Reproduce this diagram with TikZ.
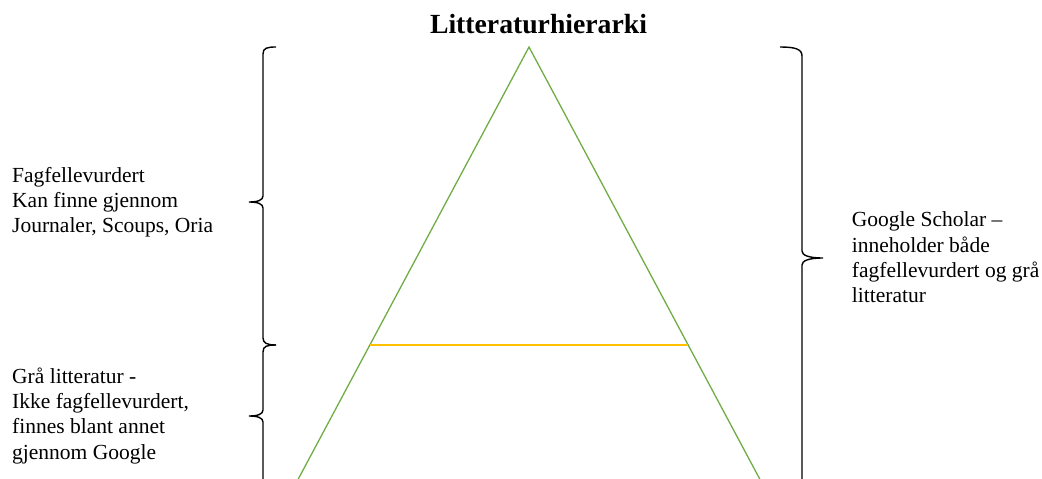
\documentclass[tikz,border=0pt]{standalone}
\usepackage{fontspec}
\setmainfont{Liberation Serif}
\definecolor{tgreen}{HTML}{70AD47}
\definecolor{tyellow}{HTML}{FFC000}
\tikzset{
  body/.style={anchor=base west, inner sep=0pt, font=\fontsize{21.5}{25.3}\selectfont},
  brace/.style={draw=black, line width=1.4pt},
}
\newcommand{\lines}[1]{\begin{tabular}[t]{@{}l@{}}#1\end{tabular}}
\begin{document}
\begin{tikzpicture}[x=1pt,y=-1pt]
\useasboundingbox (0,0) rectangle (1042,479);
\begin{scope}
\clip (0,0) rectangle (1042,479);
% title
\node[anchor=base, inner sep=0pt, font=\bfseries\fontsize{27.7}{32}\selectfont] (title) at (538.5,34) {Litteraturhierarki};
% triangle
\coordinate (apex) at (529,47);
\coordinate (bl) at (294,487);
\coordinate (br) at (764,487);
\draw[tgreen, line width=1.3pt] (bl) -- (apex) -- (br);
\draw[tyellow, line width=2pt] (370,345) -- (688,345);
% left brace 1
\draw[brace] (276,47) .. controls (267,47) and (263,48) .. (263,54) -- (263,196)
  .. controls (263,200) and (258,202) .. (249,202)
  .. controls (258,202) and (263,204) .. (263,208) -- (263,338)
  .. controls (263,343) and (267,345) .. (276,345);
% left brace 2
\draw[brace] (276,345) .. controls (267,345) and (263,346) .. (263,352) -- (263,410)
  .. controls (263,414) and (258,416) .. (249,416)
  .. controls (258,416) and (263,418) .. (263,422) -- (263,495);
% right brace
\draw[brace] (780,47) .. controls (795,47) and (802,49) .. (802,56) -- (802,251)
  .. controls (802,255) and (808,258) .. (823,258)
  .. controls (808,258) and (802,261) .. (802,265) -- (802,495);
\end{scope}
% texts
\node[body] (peer) at (12,182) {\lines{Fagfellevurdert\\Kan finne gjennom\\Journaler, Scoups, Oria}};
\node[body] (grey) at (12,383.3) {\lines{Grå litteratur -\\Ikke fagfellevurdert,\\finnes blant annet\\gjennom Google}};
\node[body] (scholar) at (851.7,226.7) {\lines{Google Scholar –\\inneholder både\\fagfellevurdert og grå\\litteratur}};
\end{tikzpicture}
\end{document}
